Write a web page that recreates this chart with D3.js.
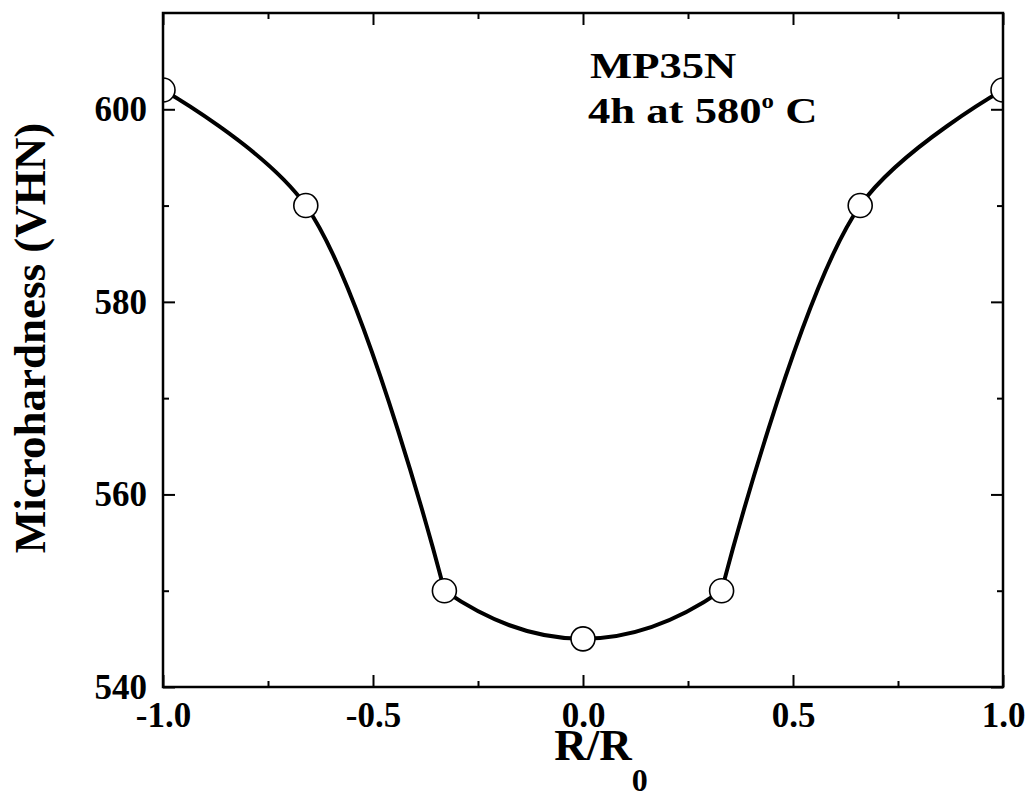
<!DOCTYPE html>
<html>
<head>
<meta charset="utf-8">
<script src="https://cdn.jsdelivr.net/npm/d3@7"></script>
<style>
  body { margin: 0; background: #fff; }
  text { font-family: "Liberation Serif", "Times New Roman", serif; font-weight: bold; }
</style>
</head>
<body>
<div id="chart"></div>
<script>
const radius = [-1.0, -0.66, -0.33, 0.0, 0.33, 0.66, 1.0];
const hardness = [602, 590, 550, 545, 550, 590, 602];
const xTicks = [-1.0, -0.5, 0.0, 0.5, 1.0];
const xMinor = [-0.75, -0.25, 0.25, 0.75];
const yTicks = [540, 560, 580, 600];
const yMinor = [550, 570, 590];

const fullWidth = 1030, fullHeight = 797;
const margin = { top: 13, right: 27, bottom: 110, left: 163 };
const width = fullWidth - margin.left - margin.right;
const height = fullHeight - margin.top - margin.bottom;

const svg = d3.select("#chart")
  .append("svg")
  .attr("width", fullWidth)
  .attr("height", fullHeight)
  .append("g")
  .attr("transform", `translate(${margin.left},${margin.top})`);

const x = d3.scaleLinear().domain([-1, 1]).range([0, width]);
const y = d3.scaleLinear().domain([540, 610]).range([height, 0]);

const defs = svg.append("defs");
defs.append("clipPath").attr("id", "clip")
  .append("rect").attr("width", width).attr("height", height);

// ticks, inward on all four sides
function styleAxis(g) {
  g.select(".domain").remove();
  g.selectAll("line").attr("stroke", "#000").attr("stroke-width", 2);
  g.selectAll("text").style("font-size", "35px").attr("fill", "#000");
}

svg.append("g")
  .attr("transform", `translate(0,${height})`)
  .call(d3.axisBottom(x).tickValues(xTicks).tickSize(-12).tickPadding(15).tickFormat(d => d.toFixed(1)))
  .call(styleAxis);
svg.append("g")
  .attr("transform", `translate(0,${height})`)
  .call(d3.axisBottom(x).tickValues(xMinor).tickSize(-6).tickFormat(""))
  .call(styleAxis);
svg.append("g")
  .call(d3.axisTop(x).tickValues(xTicks).tickSize(-12).tickFormat(""))
  .call(styleAxis);
svg.append("g")
  .call(d3.axisTop(x).tickValues(xMinor).tickSize(-6).tickFormat(""))
  .call(styleAxis);

svg.append("g")
  .call(d3.axisLeft(y).tickValues(yTicks).tickSize(-12).tickPadding(16).tickFormat(d3.format("d")))
  .call(styleAxis);
svg.append("g")
  .call(d3.axisLeft(y).tickValues(yMinor).tickSize(-6).tickFormat(""))
  .call(styleAxis);
svg.append("g")
  .attr("transform", `translate(${width},0)`)
  .call(d3.axisRight(y).tickValues(yTicks).tickSize(-12).tickFormat(""))
  .call(styleAxis);
svg.append("g")
  .attr("transform", `translate(${width},0)`)
  .call(d3.axisRight(y).tickValues(yMinor).tickSize(-6).tickFormat(""))
  .call(styleAxis);

const pts = radius.map((r, i) => ({ r, h: hardness[i] }));

// smooth line in three pieces: the two walls, and a flat bottom that meets
// them at a sharp knee
const curveG = svg.append("g").attr("clip-path", "url(#clip)");
function piece(data, curve, from, to, id) {
  defs.append("clipPath").attr("id", id)
    .append("rect")
    .attr("x", x(from)).attr("y", -20)
    .attr("width", x(to) - x(from)).attr("height", height + 40);
  curveG.append("path")
    .datum(data)
    .attr("clip-path", `url(#${id})`)
    .attr("fill", "none")
    .attr("stroke", "#000")
    .attr("stroke-width", 4)
    .attr("stroke-linejoin", "round")
    .attr("d", d3.line().x(d => x(d.r)).y(d => y(d.h)).curve(curve));
}
const n = pts.length;
piece(pts.slice(0, 3), d3.curveCatmullRom.alpha(0.5), -1.1, radius[2], "c1");
piece(pts, d3.curveMonotoneX, radius[2], radius[n - 3], "c2");
piece(pts.slice(n - 3), d3.curveCatmullRom.alpha(0.5), radius[n - 3], 1.1, "c3");

svg.append("g")
  .attr("clip-path", "url(#clip)")
  .selectAll("circle")
  .data(pts)
  .enter()
  .append("circle")
  .attr("cx", d => x(d.r))
  .attr("cy", d => y(d.h))
  .attr("r", 12)
  .attr("fill", "#fff")
  .attr("stroke", "#000")
  .attr("stroke-width", 1.6);

// frame
svg.append("rect")
  .attr("width", width)
  .attr("height", height)
  .attr("fill", "none")
  .attr("stroke", "#000")
  .attr("stroke-width", 2.5);

// annotation (the source type is set wide)
svg.append("text")
  .attr("transform", `translate(${590 - margin.left},${78 - margin.top}) scale(1.24,1)`)
  .style("font-size", "36px")
  .text("MP35N");

const note = svg.append("text")
  .attr("transform", `translate(${588 - margin.left},${123 - margin.top}) scale(1.24,1)`)
  .style("font-size", "36px");
note.append("tspan").text("4h at 580");
note.append("tspan").attr("dy", -15).style("font-size", "20px").text("o");
note.append("tspan").attr("dy", 15).text(" C");

// axis titles
const xt = svg.append("text")
  .attr("x", 601 - margin.left)
  .attr("y", 760 - margin.top)
  .style("text-anchor", "middle")
  .style("font-size", "45px");
xt.append("tspan").text("R/R");
xt.append("tspan").attr("dy", 31).style("font-size", "32px").text("0");

svg.append("text")
  .attr("transform", "rotate(-90)")
  .attr("x", -(338 - margin.top))
  .attr("y", 45 - margin.left)
  .style("text-anchor", "middle")
  .style("font-size", "45px")
  .text("Microhardness (VHN)");
</script>
</body>
</html>
